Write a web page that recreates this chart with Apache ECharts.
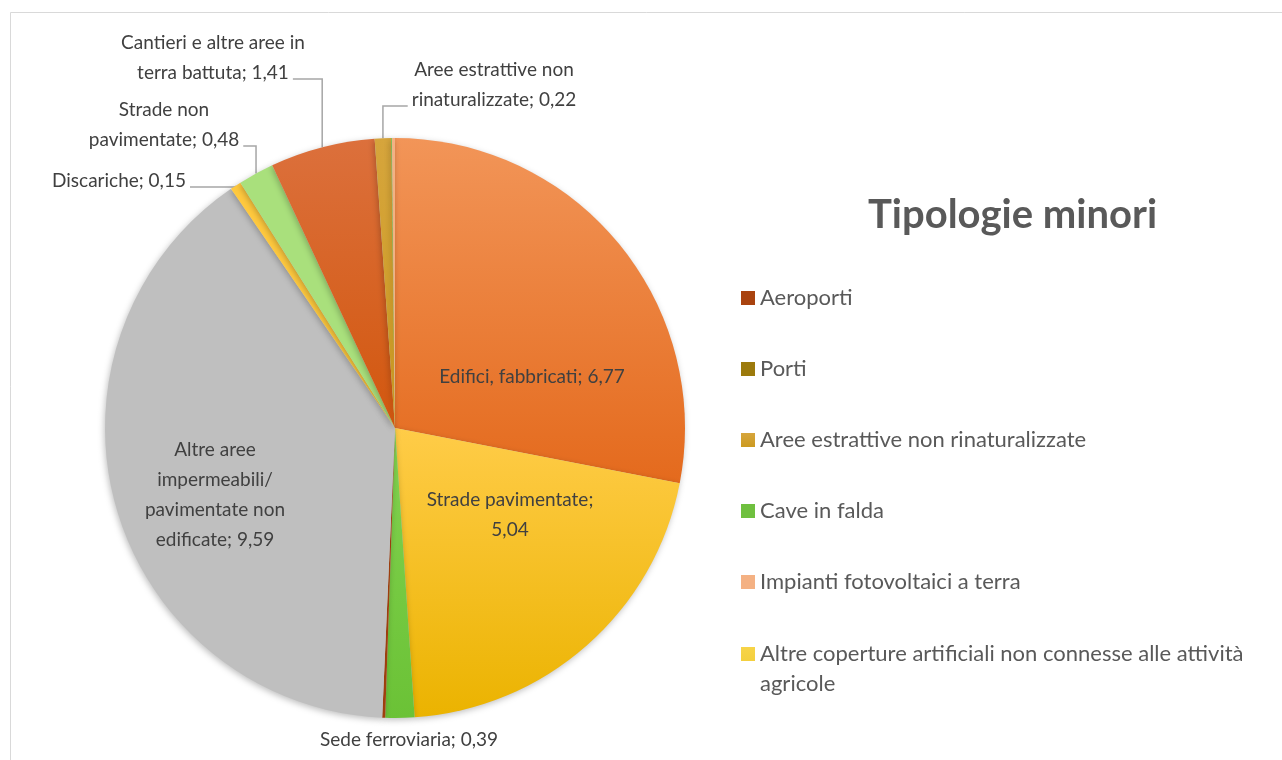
<!DOCTYPE html>
<html>
<head>
<meta charset="utf-8">
<script src="https://cdn.jsdelivr.net/npm/echarts@6/dist/echarts.min.js"></script>
<style>
  html, body { margin: 0; padding: 0; background: #fff; }
  #chart { width: 1282px; height: 760px; }
</style>
</head>
<body>
<div id="chart"></div>
<script>
// slices, clockwise from 12 o'clock
const categories = [
  'Edifici, fabbricati',
  'Strade pavimentate',
  'Sede ferroviaria',
  'Aeroporti',
  'Porti',
  'Altre aree impermeabili/ pavimentate non edificate',
  'Discariche',
  'Strade non pavimentate',
  'Cantieri e altre aree in terra battuta',
  'Aree estrattive non rinaturalizzate',
  'Cave in falda',
  'Impianti fotovoltaici a terra',
  'Altre coperture artificiali non connesse alle attività agricole'
];
const values = [6.77, 5.04, 0.39, 0.04, 0, 9.59, 0.15, 0.48, 1.41, 0.22, 0.01, 0.04, 0];

// label text as wrapped in the chart ('' = no label)
const labelNames = [
  'Edifici, fabbricati',
  'Strade pavimentate;\n',
  'Sede ferroviaria',
  '', '',
  'Altre aree\nimpermeabili/\npavimentate non\nedificate',
  'Discariche',
  'Strade non\npavimentate',
  'Cantieri e altre aree in\nterra battuta',
  'Aree estrattive non\nrinaturalizzate',
  '', '', ''
];
const legendNames = [
  'Aeroporti',
  'Porti',
  'Aree estrattive non rinaturalizzate',
  'Cave in falda',
  'Impianti fotovoltaici a terra',
  'Altre coperture artificiali non connesse alle attività agricole'
];

const colors = [
  ['#F29558', '#E46A1D'],
  ['#FFCC48', '#EBB300'],
  ['#82D250', '#6BC236'],
  ['#A9430F', '#A9430F'],
  ['#9C7A0C', '#9C7A0C'],
  ['#BFBFBF', '#BFBFBF'],
  ['#FFC93E', '#FFC93E'],
  ['#A9E07C', '#A9E07C'],
  ['#DC703C', '#D2570E'],
  ['#D6A53C', '#CC9A20'],
  ['#6FC03F', '#6FC03F'],
  ['#F4B183', '#F4B183'],
  ['#F7D448', '#EBC62A']
];

// label anchor points (centre of text block)
const labelPos = {
  0: [532, 377],
  1: [510, 515],
  2: [409, 740],
  5: [215, 495],
  6: [119, 181],
  7: [164, 125],
  8: [213, 58],
  9: [494, 85]
};
const insideIdx = [0, 1, 5];
const LABEL_FONT = '19px Lato';
const LINE_H = 30;

const fmt = v => v.toFixed(2).replace('.', ',');
const labelText = i => {
  const t = labelNames[i];
  return t.endsWith('\n') ? t + fmt(values[i]) : t + '; ' + fmt(values[i]);
};

const ctx = document.createElement('canvas').getContext('2d');
ctx.font = LABEL_FONT;

const data = categories.map((name, i) => {
  const hasLabel = labelNames[i] !== '';
  const inside = insideIdx.indexOf(i) >= 0;
  return {
    name: name,
    value: values[i],
    itemStyle: {
      color: {
        type: 'linear', x: 0, y: 0, x2: 0, y2: 1,
        colorStops: [{ offset: 0, color: colors[i][0] }, { offset: 1, color: colors[i][1] }]
      }
    },
    label: {
      show: hasLabel,
      position: inside ? 'inside' : 'outside',
      formatter: () => labelText(i)
    },
    labelLine: { show: hasLabel && !inside && i !== 2 }
  };
});

const legendText = { fontFamily: 'Lato', fontSize: 22, color: '#595959', lineHeight: 30 };

const chart = echarts.init(document.getElementById('chart'));
chart.setOption({
  animation: false,
  backgroundColor: '#fff',
  graphic: [{
    type: 'rect',
    shape: { x: 10.5, y: 12.5, width: 1290, height: 780 },
    style: { fill: 'none', stroke: '#D9D9D9', lineWidth: 1 },
    silent: true
  }],
  title: {
    text: 'Tipologie minori',
    left: 863,
    top: 190,
    textStyle: { fontFamily: 'Lato', fontSize: 40, fontWeight: 'bold', color: '#595959' }
  },
  legend: [{
    orient: 'vertical',
    left: 736,
    top: 278,
    itemWidth: 14,
    itemHeight: 14,
    itemGap: 41,
    icon: 'rect',
    data: legendNames.slice(0, 5),
    textStyle: legendText
  }, {
    // two-line item: square sits at the top of a tall icon box so it lines up with line one
    orient: 'vertical',
    left: 736,
    top: 634,
    itemWidth: 14,
    itemHeight: 44,
    icon: 'path://M0,0h14v14h-14z M0,44h14',
    data: legendNames.slice(5),
    formatter: name => name.replace(' agricole', '\nagricole'),
    textStyle: legendText
  }],
  series: [{
    type: 'pie',
    center: [395, 428],
    radius: 290,
    startAngle: 90,
    clockwise: true,
    avoidLabelOverlap: false,
    itemStyle: {
      borderWidth: 0,
      shadowBlur: 6,
      shadowColor: 'rgba(0,0,0,0.25)',
      shadowOffsetX: -1,
      shadowOffsetY: 2
    },
    label: {
      fontFamily: 'Lato',
      fontSize: 19,
      color: '#404040',
      lineHeight: LINE_H,
      align: 'center'
    },
    labelLine: {
      lineStyle: { color: '#A6A6A6', width: 1.5 },
      length: 10,
      length2: 10
    },
    labelLayout: params => {
      const i = params.dataIndex;
      const p = labelPos[i];
      if (!p) return {};
      const out = { x: p[0], y: p[1], align: 'center', verticalAlign: 'middle' };
      const pts = params.labelLinePoints;
      if (pts && insideIdx.indexOf(i) < 0) {
        const lines = labelText(i).split('\n');
        const last = lines[lines.length - 1];
        const w = ctx.measureText(last).width;
        const lineY = p[1] + (lines.length - 1) * LINE_H / 2 + 6;
        const start = pts[0];
        const endX = start[0] > p[0] ? p[0] + w / 2 + 4 : p[0] - w / 2 - 4;
        out.labelLinePoints = [[start[0], start[1]], [start[0], lineY], [endX, lineY]];
      }
      return out;
    },
    emphasis: { disabled: true },
    data: data
  }]
});
</script>
</body>
</html>
